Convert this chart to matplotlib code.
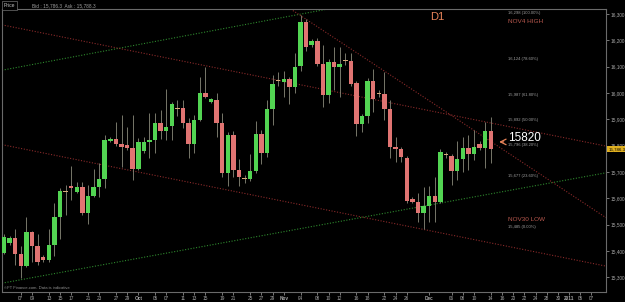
import matplotlib
matplotlib.use("Agg")
import matplotlib.pyplot as plt
import matplotlib.transforms as mtransforms

plt.rcParams['font.family'] = ['Liberation Sans', 'DejaVu Sans']

# === Daily candles (index = trading bar, Sep 2010 .. Dec 14 2010) ===
opens = [15393.5, 15430.3, 15449.3, 15388.5, 15342.9, 15472.1, 15420.0, 15377.1, 15365.7, 15422.7,
         15530.2, 15627.8, 15646.8, 15625.1, 15643.0, 15545.4, 15609.9, 15643.0, 15673.4, 15818.8,
         15825.3, 15806.3, 15802.5, 15791.1, 15712.5, 15780.8, 15815.0, 15821.5, 15887.2, 15856.8,
         15874.7, 15941.1, 15941.9, 15887.2, 15806.3, 15897.4, 16001.1, 15967.0, 15973.4, 15887.2,
         15695.0, 15839.3, 15707.5, 15677.2, 15672.2, 15703.7, 15844.3, 15773.2, 15938.1, 16047.5,
         16042.9, 16053.2, 16023.9, 16102.5, 16270.8, 16182.3, 16197.5, 16109.0, 15992.4, 16116.6,
         16097.6, 16123.8, 16121.5, 16036.8, 15881.1, 15912.6, 16046.7, 15998.0, 15996.2, 15939.2,
         15796.1, 15786.2, 15752.0, 15597.4, 15587.1, 15545.4, 15570.8, 15608.8, 15587.1, 15765.6,
         15761.8, 15704.9, 15749.3, 15792.2, 15768.3, 15807.4, 15790.0, 15856.8]
highs = [15464.5, 15456.9, 15483.5, 15420.0, 15529.1, 15475.9, 15464.5, 15384.7, 15483.5, 15583.4,
         15639.2, 15650.6, 15723.9, 15663.1, 15663.1, 15650.6, 15711.3, 15735.3, 15840.5, 15832.9,
         15891.0, 15916.4, 15872.0, 15916.4, 15829.1, 15834.0, 15925.2, 15924.0, 15935.4, 16015.2,
         15965.8, 15973.4, 15973.4, 15905.0, 15916.4, 16061.9, 16099.9, 15981.0, 15998.8, 15924.0,
         15851.9, 15855.7, 15749.3, 15688.6, 15768.3, 15893.6, 15859.5, 15973.4, 16068.4, 16079.7,
         16084.7, 16060.8, 16151.9, 16298.0, 16281.0, 16205.1, 16208.9, 16182.3, 16129.1, 16175.8,
         16175.8, 16151.9, 16151.9, 16045.6, 15920.2, 16056.8, 16091.1, 16011.4, 16080.9, 15973.4,
         15834.0, 15794.9, 15760.7, 15605.0, 15620.2, 15643.0, 15646.8, 15682.1, 15787.3, 15775.9,
         15768.3, 15818.8, 15834.0, 15840.5, 15859.5, 15817.7, 15891.0, 15910.0]
lows = [15388.5, 15422.7, 15346.7, 15297.4, 15339.1, 15358.1, 15346.7, 15358.1, 15358.1, 15380.0,
        15445.5, 15537.0, 15593.6, 15620.2, 15537.0, 15502.4, 15605.0, 15605.0, 15639.2, 15813.9,
        15798.7, 15719.0, 15783.5, 15669.6, 15707.5, 15772.1, 15753.1, 15772.1, 15825.3, 15821.5,
        15821.5, 15912.6, 15867.1, 15753.1, 15772.1, 15893.6, 15981.0, 15962.0, 15834.0, 15680.9,
        15646.8, 15682.1, 15646.8, 15658.2, 15665.8, 15696.1, 15730.3, 15758.0, 15878.5, 16026.6,
        15985.9, 15958.2, 16001.1, 16084.7, 16160.6, 16174.7, 16102.5, 15947.9, 15962.0, 16011.4,
        15984.8, 16106.3, 16026.6, 15836.7, 15853.0, 15884.9, 15929.0, 15984.8, 15897.4, 15753.1,
        15739.1, 15739.1, 15582.2, 15582.2, 15511.2, 15485.0, 15511.2, 15511.2, 15582.2, 15753.1,
        15650.6, 15669.6, 15699.9, 15707.5, 15745.5, 15783.5, 15715.1, 15735.3]
closes = [15451.9, 15449.3, 15388.5, 15342.9, 15472.1, 15420.0, 15358.1, 15365.7, 15422.7, 15530.2,
          15628.9, 15624.0, 15639.2, 15643.0, 15545.4, 15609.9, 15643.0, 15673.4, 15821.5, 15825.3,
          15806.3, 15796.1, 15791.1, 15712.5, 15815.0, 15815.0, 15821.5, 15887.2, 15856.8, 15872.0,
          15958.2, 15937.3, 15887.2, 15806.3, 15897.4, 16001.1, 15985.9, 15976.1, 15887.2, 15695.0,
          15839.3, 15707.5, 15679.8, 15674.9, 15703.7, 15844.3, 15773.2, 15938.1, 16034.2, 16043.7,
          16053.2, 16023.9, 16099.9, 16270.8, 16175.8, 16197.5, 16109.0, 15992.4, 16116.6, 16097.6,
          16109.0, 16121.5, 16034.2, 15881.1, 15912.6, 16046.7, 15976.1, 15995.7, 15939.2, 15793.8,
          15786.2, 15755.8, 15589.8, 15587.1, 15545.4, 15570.8, 15608.8, 15587.1, 15774.8, 15763.4,
          15704.9, 15749.3, 15790.0, 15768.3, 15796.1, 15790.0, 15855.7, 15786.3]

# date axis labels at bar positions
tick_pos = [3, 5, 8, 10, 12, 15, 17, 20, 22, 24, 27, 29, 32, 34, 36, 39, 41, 44, 46, 48, 50,
            53, 56, 58, 60, 63, 65, 68, 70, 72, 76, 80, 82, 84, 87, 89, 91, 93, 95, 97, 99,
            101, 103, 105]
tick_labels = ['07', '09', '13', '15', '17', '21', '23', '27', '29', 'Oct', '05', '07', '11', '13',
               '15', '19', '21', '25', '27', '29', 'Nov', '04', '08', '10', '12', '16', '18', '22',
               '24', '26', 'Dec', '06', '08', '10', '14', '16', '20', '22', '24', '28', '30',
               '2011', '05', '07']
price_ticks = [15300, 15400, 15500, 15600, 15700, 15800, 15900, 16000, 16100, 16200, 16300]

# fibonacci retracement Nov4 high -> Nov30 low
fib_high = 16298
fib_low = 15485
fib_ratios = [1.0, 0.786, 0.618, 0.5, 0.382, 0.236, 0.0]

# trend lines, each as two (bar, price) points
green_lines = [((-0.2, 16087), (65.4, 16349)), ((-0.2, 15278), (107.4, 15696))]
red_lines = [((-0.2, 16258), (107.4, 15799)), ((49.3, 16346), (107.4, 15529)),
             ((-0.2, 15803), (107.4, 15343))]

UP = '#52d452'
DOWN = '#e07472'
DOJI = '#d8a878'
WICK = '#8a8a7a'

fig = plt.figure(figsize=(6.25, 3.02), dpi=100, facecolor='black')
ax = fig.add_axes([2 / 625, 1 - 291.7 / 302, 604 / 625, 282.7 / 302])
ax.set_facecolor('black')
ax.set_xlim(-0.36, 107.6)
ax.set_ylim(15245, 16319)

for p1, p2 in green_lines:
    ax.axline(p1, p2, color='#2e8a2e', lw=0.8, ls=(0, (1, 1.5)))
for p1, p2 in red_lines:
    ax.axline(p1, p2, color='#8a2a2a', lw=0.8, ls=(0, (1, 1.5)))

xs = list(range(len(opens)))
ax.vlines(xs, lows, highs, color=WICK, lw=0.6, zorder=3)
for i in xs:
    o, c = opens[i], closes[i]
    if abs(c - o) < 4:
        col = DOJI
    else:
        col = UP if c >= o else DOWN
    h = max(abs(c - o), 3)
    ax.bar(i, h, bottom=min(o, c), width=0.8, color=col, lw=0, zorder=4)

ax.set_xticks(tick_pos)
ax.set_xticklabels(tick_labels)
for lab in ax.get_xticklabels():
    if lab.get_text() in ('Oct', 'Nov', 'Dec', '2011'):
        lab.set_color('#e8e8e8')
        lab.set_fontweight('bold')
ax.yaxis.tick_right()
ax.set_yticks(price_ticks)
ax.set_yticklabels([f'{v:,}' for v in price_ticks])
ax.tick_params(axis='both', colors='#a8a8a8', labelsize=3.4, length=2, width=0.5, pad=1)
for s in ax.spines.values():
    s.set_color('#6a6a6a')
    s.set_linewidth(0.8)

# fibonacci labels
for r in fib_ratios:
    lvl = fib_low + r * (fib_high - fib_low)
    ax.text(90.1, lvl + 6, f'{lvl:,.0f} ({r * 100:.2f}%)', color='#a0a0a0',
            fontsize=3, va='center', ha='left')
ax.text(90, 16272, 'NOV4 HIGH', color='#b8584e', fontsize=4.6, va='center', ha='left')
ax.text(90, 15521, 'NOV30 LOW', color='#b8584e', fontsize=4.6, va='center', ha='left')
ax.text(77.4, 16289, 'D1', color='#e8845a', fontsize=8, va='center', ha='center')
ax.text(90.1, 15829, '15820', color='white', fontsize=8.5, va='center', ha='left')
ax.annotate('', xy=(88.0, 15814), xytext=(89.8, 15814),
            arrowprops=dict(arrowstyle='->', color='#e8845a', lw=0.9))
ax.text(0.003, 0.006, '\u00a9FT Finance.com. Data is indicative', transform=ax.transAxes,
        color='#909090', fontsize=3, va='bottom', ha='left')

# current price marker on the price scale
trans = mtransforms.blended_transform_factory(ax.transAxes, ax.transData)
ax.text(1.004, closes[-1], f'{closes[-1]:,.1f}', transform=trans, color='black', fontsize=3.2,
        va='center', ha='left', clip_on=False,
        bbox=dict(boxstyle='square,pad=0.25', fc='#e0b020', ec='none'))

fig.text(0.006, 0.982, 'Price', color='#c0c0c0', fontsize=3.6, va='center', ha='left',
         bbox=dict(boxstyle='square,pad=0.4', fc='black', ec='#707070', lw=0.5))
fig.text(0.052, 0.982, 'Bid : 15,786.3  Ask : 15,788.3', color='#a0a0a0', fontsize=3.4,
         va='center', ha='left')

fig.savefig('out.png', dpi=100, facecolor='black')
